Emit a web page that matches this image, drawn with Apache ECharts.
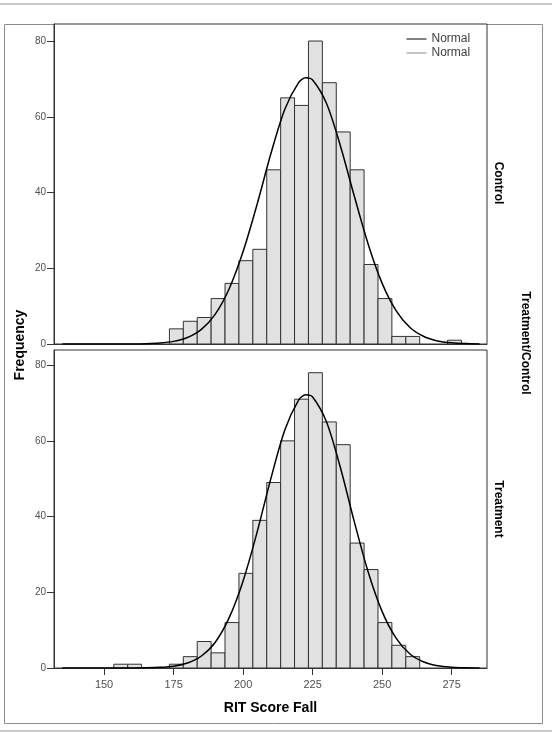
<!DOCTYPE html>
<html>
<head>
<meta charset="utf-8">
<title>RIT Score Fall</title>
<script src="https://cdn.jsdelivr.net/npm/echarts@6/dist/echarts.min.js"></script>
<style>
  html, body { margin: 0; padding: 0; background: #fff; }
  #chart { width: 552px; height: 732px; }
</style>
</head>
<body>
<div id="chart"></div>
<script>
// bins are 5 wide, lower edges below
const binWidth = 5;
const binStart = [153.5, 158.5, 163.5, 168.5, 173.5, 178.5, 183.5, 188.5, 193.5, 198.5, 203.5, 208.5, 213.5,
  218.5, 223.5, 228.5, 233.5, 238.5, 243.5, 248.5, 253.5, 258.5, 263.5, 268.5, 273.5];
const controlCounts = [0, 0, 0, 0, 4, 6, 7, 12, 16, 22, 25, 46, 65, 63, 80, 69, 56, 46, 21, 12, 2, 2, 0, 0, 1];
const treatmentCounts = [1, 1, 0, 0, 1, 3, 7, 4, 12, 25, 39, 49, 60, 71, 78, 65, 59, 33, 26, 12, 6, 3, 0, 0, 0];

// normal curves
const curveX = [135, 140, 145, 150, 155, 160, 165, 170, 175, 180, 185, 190, 195, 200, 205, 210, 215, 220, 222.5,
  225, 230, 235, 240, 245, 250, 255, 260, 265, 270, 275, 280, 285];
const controlCurve = [0, 0, 0, 0, 0.01, 0.02, 0.08, 0.25, 0.69, 1.72, 3.87, 7.9, 14.6, 24.4, 36.8, 50.3, 62.0, 69.1, 70.3,
  69.7, 63.5, 52.3, 39.0, 26.3, 16.0, 8.8, 4.35, 1.98, 0.8, 0.3, 0.1, 0.03];
const treatmentCurve = [0, 0, 0, 0, 0, 0.01, 0.05, 0.17, 0.49, 1.32, 3.17, 6.8, 13.3, 23.0, 35.8, 50.1, 62.9, 70.8, 72.2,
  71.6, 65.0, 52.9, 38.6, 25.3, 14.9, 7.9, 3.7, 1.6, 0.6, 0.21, 0.06, 0.02];

const xTicks = [150, 175, 200, 225, 250, 275];
const yTicks = [0, 20, 40, 60, 80];

const fontFamily = '"Liberation Sans", Arial, sans-serif';

const toBins = (counts) => binStart.map((lo, i) => [lo, lo + binWidth, counts[i]]);
const toCurve = (vals) => curveX.map((x, i) => [x, vals[i]]);

const renderBin = (params, api) => {
  const n = api.value(2);
  if (!n) return;
  const p0 = api.coord([api.value(0), n]);
  const p1 = api.coord([api.value(1), 0]);
  return {
    type: 'rect',
    shape: { x: p0[0], y: p0[1], width: p1[0] - p0[0], height: p1[1] - p0[1] },
    style: { fill: '#e1e1e1', stroke: '#333', lineWidth: 1 }
  };
};

const chart = echarts.init(document.getElementById('chart'));

const xAxisBase = {
  type: 'value',
  min: 132,
  max: 287.7,
  splitLine: { show: false },
  axisLine: { show: true, lineStyle: { color: '#333' } }
};

const yAxisBase = {
  type: 'value',
  min: 0,
  splitLine: { show: false },
  axisLine: { show: true, lineStyle: { color: '#333' } },
  axisTick: { show: true, length: 7, customValues: yTicks, lineStyle: { color: '#333' } },
  axisLabel: { customValues: yTicks, fontSize: 10, margin: 8, color: '#505050', fontFamily }
};

const option = {
  animation: false,
  backgroundColor: '#fff',
  textStyle: { fontFamily },
  legend: {
    orient: 'vertical',
    left: 406,
    top: 33,
    padding: 0,
    itemWidth: 20,
    itemHeight: 12,
    itemGap: 2,
    selectedMode: false,
    itemStyle: { opacity: 0, borderWidth: 0 },
    textStyle: { fontSize: 12, color: '#404040', fontFamily },
    formatter: () => 'Normal',
    data: [
      { name: 'Normal Control', lineStyle: { color: '#000', width: 1 } },
      { name: 'Normal Treatment', lineStyle: { color: '#8c8c8c', width: 1 } }
    ]
  },
  grid: [
    { left: 54, top: 24, width: 433, height: 320, show: true, borderColor: '#333', borderWidth: 1, backgroundColor: '#fff' },
    { left: 54, top: 350, width: 433, height: 318, show: true, borderColor: '#333', borderWidth: 1, backgroundColor: '#fff' }
  ],
  xAxis: [
    Object.assign({}, xAxisBase, {
      gridIndex: 0,
      axisTick: { show: false },
      axisLabel: { show: false }
    }),
    Object.assign({}, xAxisBase, {
      gridIndex: 1,
      axisTick: { show: true, length: 7, customValues: xTicks, lineStyle: { color: '#333' } },
      axisLabel: { customValues: xTicks, fontSize: 11, margin: 11, color: '#505050', fontFamily }
    })
  ],
  yAxis: [
    Object.assign({}, yAxisBase, { gridIndex: 0, max: 84.5 }),
    Object.assign({}, yAxisBase, { gridIndex: 1, max: 84 })
  ],
  series: [
    {
      name: 'Control',
      type: 'custom',
      xAxisIndex: 0,
      yAxisIndex: 0,
      renderItem: renderBin,
      encode: { x: [0, 1], y: 2 },
      data: toBins(controlCounts)
    },
    {
      name: 'Treatment',
      type: 'custom',
      xAxisIndex: 1,
      yAxisIndex: 1,
      renderItem: renderBin,
      encode: { x: [0, 1], y: 2 },
      data: toBins(treatmentCounts)
    },
    {
      name: 'Normal Control',
      type: 'line',
      xAxisIndex: 0,
      yAxisIndex: 0,
      data: toCurve(controlCurve),
      smooth: 0.3,
      symbol: 'none',
      z: 5,
      lineStyle: { color: '#000', width: 1.5 },
      itemStyle: { color: '#000' }
    },
    {
      name: 'Normal Treatment',
      type: 'line',
      xAxisIndex: 1,
      yAxisIndex: 1,
      data: toCurve(treatmentCurve),
      smooth: 0.3,
      symbol: 'none',
      z: 5,
      lineStyle: { color: '#000', width: 1.5 },
      itemStyle: { color: '#000' }
    }
  ],
  graphic: [
    { type: 'line', silent: true, z: -1, shape: { x1: 0, y1: 4, x2: 552, y2: 4 }, style: { stroke: '#c8c8c8', lineWidth: 2 } },
    { type: 'line', silent: true, z: -1, shape: { x1: 0, y1: 731, x2: 552, y2: 731 }, style: { stroke: '#c8c8c8', lineWidth: 2 } },
    { type: 'rect', silent: true, z: -1, shape: { x: 4.5, y: 24.5, width: 538, height: 699 }, style: { fill: 'none', stroke: '#8c8c8c', lineWidth: 1 } },
    {
      type: 'text', x: 20, y: 345, rotation: Math.PI / 2,
      style: { text: 'Frequency', font: 'bold 14px ' + fontFamily, fill: '#000', align: 'center', verticalAlign: 'middle' }
    },
    {
      type: 'text', x: 270.5, y: 708,
      style: { text: 'RIT Score Fall', font: 'bold 14px ' + fontFamily, fill: '#000', align: 'center', verticalAlign: 'middle' }
    },
    {
      type: 'text', x: 498, y: 183, rotation: -Math.PI / 2,
      style: { text: 'Control', font: 'bold 12px ' + fontFamily, fill: '#000', align: 'center', verticalAlign: 'middle' }
    },
    {
      type: 'text', x: 498, y: 509, rotation: -Math.PI / 2,
      style: { text: 'Treatment', font: 'bold 12px ' + fontFamily, fill: '#000', align: 'center', verticalAlign: 'middle' }
    },
    {
      type: 'text', x: 525, y: 343, rotation: -Math.PI / 2,
      style: { text: 'Treatment/Control', font: 'bold 12px ' + fontFamily, fill: '#000', align: 'center', verticalAlign: 'middle' }
    }
  ]
};

chart.setOption(option);
</script>
</body>
</html>
